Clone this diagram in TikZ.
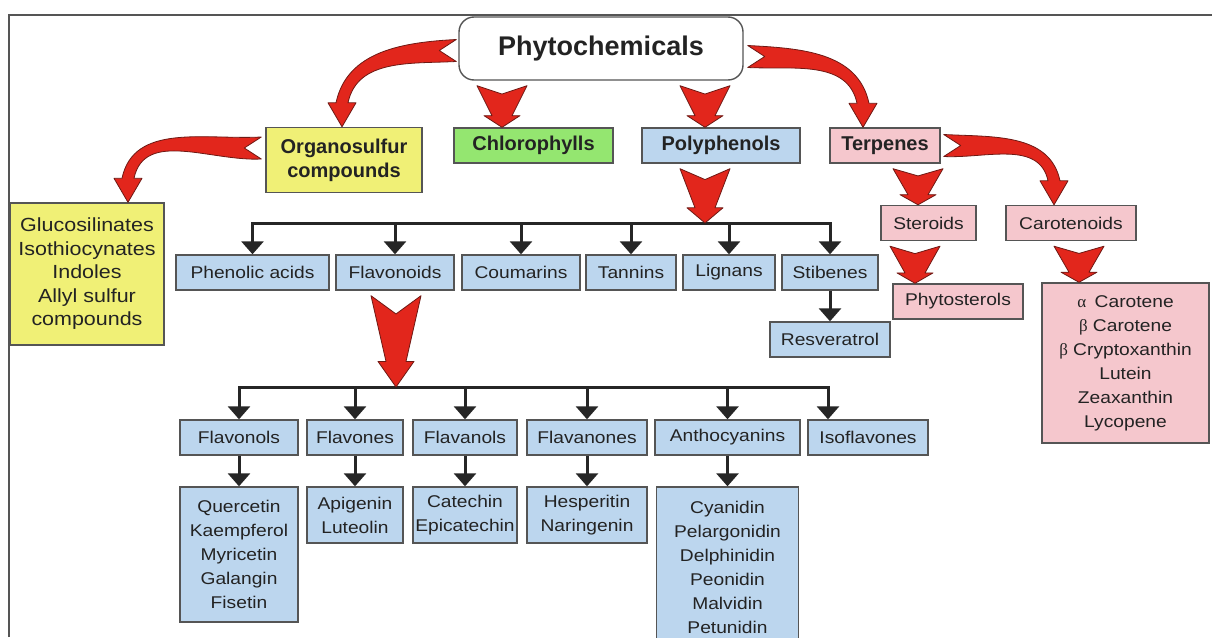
\documentclass[tikz,border=0pt]{standalone}
\usepackage{fontspec}
\setmainfont{Liberation Sans}
\newfontfamily\boxfont[FakeStretch=1.13]{Liberation Sans}
\newfontfamily\greekfont{Liberation Serif}
\definecolor{boxblue}{RGB}{188,214,238}
\definecolor{boxpink}{RGB}{245,199,205}
\definecolor{boxyellow}{RGB}{240,240,118}
\definecolor{boxgreen}{RGB}{148,230,112}
\definecolor{arrowred}{RGB}{226,38,28}
\definecolor{arrowedge}{RGB}{110,25,20}
\definecolor{edgegray}{RGB}{85,85,85}
\definecolor{inkgray}{RGB}{35,35,35}
\usepackage{tikz}
\usetikzlibrary{arrows.meta,calc}

% straight red arrow: x position, from anchor, to anchor
\newcommand{\fatarrow}[3]{%
  \filldraw[fatred] let \p1=(#2), \p2=(#3), \n1={\y1-\y2-5} in
    (#1-25,\y1-5) -- (#1,\y1-5-0.2*\n1) -- (#1+25,\y1-5)
    -- (#1+10,\y2+0.28*\n1) -- (#1+18,\y2+0.28*\n1) -- (#1,\y2)
    -- (#1-18,\y2+0.28*\n1) -- (#1-10,\y2+0.28*\n1) -- cycle;}
% bent red arrow: tail, tip, side (1 or -1), tail angle, head angle
\newcommand{\bentarrow}[5]{%
  \filldraw[fatred] let \p1=(#1), \p2=(#2) in
    (\x1,\y1+11) to[out=#4,in=#5] ({\x2+#3*6},\y2+24)
    -- ({\x2+#3*14},\y2+24) -- (\x2,\y2) -- ({\x2-#3*14},\y2+24)
    -- ({\x2-#3*6},\y2+24) to[out=#5,in=#4] (\x1,\y1-11)
    -- ({\x1+#3*17},\y1) -- cycle;}

\begin{document}
\begin{tikzpicture}[x=1pt,y=1pt,
    cat/.style={draw=edgegray, line width=1.4pt, text=inkgray, align=center,
      inner sep=2pt, font=\boxfont\fontsize{17}{24}\selectfont},
    titlebox/.style={cat, font=\bfseries\fontsize{20}{24}\selectfont},
    bluebox/.style={cat, fill=boxblue, minimum height=35},
    pinkbox/.style={cat, fill=boxpink, minimum height=35},
    fatred/.style={fill=arrowred, draw=arrowedge, line width=0.8pt, line join=round},
    bus/.style={draw=black!85, line width=3pt, line cap=rect},
    tree/.style={draw=black!85, line width=3pt, -{Triangle[width=22pt,length=13pt]}}]
  \path[use as bounding box] (0,0) rectangle (1212,-637);
  \clip (0,0) rectangle (1212,-637);
  \fill[white] (0,0) rectangle (1212,-637);
  \draw[edgegray, line width=1.5pt] (9,-637) -- (9,-15) -- (1212,-15);

  \node[cat, rounded corners=15, fill=white, minimum width=284, minimum height=63,
    font=\bfseries\fontsize{27}{32}\selectfont] (phyto) at (601,-48.5) {Phytochemicals};
  \node[titlebox, fill=boxyellow, minimum width=156, minimum height=65] (organo) at (344,-160) {Organosulfur\\compounds};
  \node[titlebox, fill=boxgreen, minimum width=159, minimum height=35] (chloro) at (533.5,-145.5) {Chlorophylls};
  \node[titlebox, fill=boxblue, minimum width=158, minimum height=35] (poly) at (721,-145.5) {Polyphenols};
  \node[titlebox, fill=boxpink, minimum width=110, minimum height=35] (terp) at (885,-145.5) {Terpenes};

  \node[cat, fill=boxyellow, minimum width=154, minimum height=142,
    font=\boxfont\fontsize{19}{23.5}\selectfont] (sulfurlist) at (87,-274)
    {Glucosilinates\\Isothiocynates\\Indoles\\Allyl sulfur\\compounds};

  \node[bluebox, minimum width=153] (phenolic) at (252.5,-272.5) {Phenolic acids};
  \node[bluebox, minimum width=118] (flavonoids) at (395,-272.5) {Flavonoids};
  \node[bluebox, minimum width=118] (coumarins) at (521,-272.5) {Coumarins};
  \node[bluebox, minimum width=90] (tannins) at (631,-272.5) {Tannins};
  \node[bluebox, minimum width=92] (lignans) at (729,-272.5) {Lignans};
  \node[bluebox, minimum width=96] (stibenes) at (830,-272.5) {Stibenes};
  \node[bluebox, minimum width=120] (resveratrol) at (830,-339.5) {Resveratrol};

  \node[pinkbox, minimum width=95] (steroids) at (928.5,-223) {Steroids};
  \node[pinkbox, minimum width=130] (carotenoids) at (1071,-223) {Carotenoids};
  \node[pinkbox, minimum width=130] (phytosterols) at (958,-301.5) {Phytosterols};
  \node[pinkbox, minimum width=167, minimum height=160] (carotenebox) at (1125.5,-363)
    {{\greekfont α}\enspace Carotene\\{\greekfont β}~Carotene\\{\greekfont β}~Cryptoxanthin\\Lutein\\Zeaxanthin\\Lycopene};

  \node[bluebox, minimum width=118] (flavonols) at (239,-437.5) {Flavonols};
  \node[bluebox, minimum width=96] (flavones) at (355,-437.5) {Flavones};
  \node[bluebox, minimum width=104] (flavanols) at (465,-437.5) {Flavanols};
  \node[bluebox, minimum width=120] (flavanones) at (587,-437.5) {Flavanones};
  \node[bluebox, minimum width=145] (antho) at (727.5,-437.5) {Anthocyanins};
  \node[bluebox, minimum width=120] (iso) at (868,-437.5) {Isoflavones};

  \node[bluebox, minimum width=118, minimum height=135] (quercetin) at (239,-554.5)
    {Quercetin\\Kaempferol\\Myricetin\\Galangin\\Fisetin};
  \node[bluebox, minimum width=96, minimum height=56] (apigenin) at (355,-515) {Apigenin\\Luteolin};
  \node[bluebox, minimum width=104, minimum height=56] (catechin) at (465,-515) {Catechin\\Epicatechin};
  \node[bluebox, minimum width=120, minimum height=56] (hesperitin) at (587,-515) {Hesperitin\\Naringenin};
  \node[bluebox, minimum width=142, minimum height=161] (cyanidin) at (727.5,-567.5)
    {Cyanidin\\Pelargonidin\\Delphinidin\\Peonidin\\Malvidin\\Petunidin};

  \coordinate (bus2) at (705,-223);
  \draw[bus] (phenolic.north |- bus2) -- (stibenes.north |- bus2);
  \foreach \n in {phenolic,flavonoids,coumarins,tannins,lignans,stibenes}
    \draw[tree] (\n.north |- bus2) -- (\n.north);
  \draw[tree] (stibenes.south) -- (resveratrol.north);

  \coordinate (bus3) at (396,-387);
  \coordinate (isoin) at ([xshift=-40]iso.north);
  \draw[bus] (flavonols.north |- bus3) -- (isoin |- bus3);
  \foreach \n in {flavonols,flavones,flavanols,flavanones,antho}
    \draw[tree] (\n.north |- bus3) -- (\n.north);
  \draw[tree] (isoin |- bus3) -- (isoin);
  \foreach \a/\b in {flavonols/quercetin,flavones/apigenin,flavanols/catechin,
      flavanones/hesperitin,antho/cyanidin}
    \draw[tree] (\a.south) -- (\b.north);

  \fatarrow{502}{phyto.south}{chloro.north}
  \fatarrow{705}{phyto.south}{poly.north}
  \fatarrow{705}{poly.south}{bus2}
  \fatarrow{918}{terp.south}{steroids.north}
  \fatarrow{915}{steroids.south}{phytosterols.north}
  \fatarrow{1079}{carotenoids.south}{carotenebox.north}
  \fatarrow{396}{flavonoids.south}{bus3}
  \bentarrow{$(phyto.west)+(-2,-2)$}{$(organo.north)+(-2,0)$}{-1}{183}{78}
  \bentarrow{$(phyto.east)+(4,-8)$}{$(terp.north)+(-22,0)$}{1}{-3}{102}
  \bentarrow{$(organo.west)+(-4,12)$}{$(sulfurlist.north)+(41,0)$}{-1}{183}{78}
  \bentarrow{$(terp.east)+(3,0)$}{$(carotenoids.north)+(-17,0)$}{1}{-3}{102}
\end{tikzpicture}
\end{document}
